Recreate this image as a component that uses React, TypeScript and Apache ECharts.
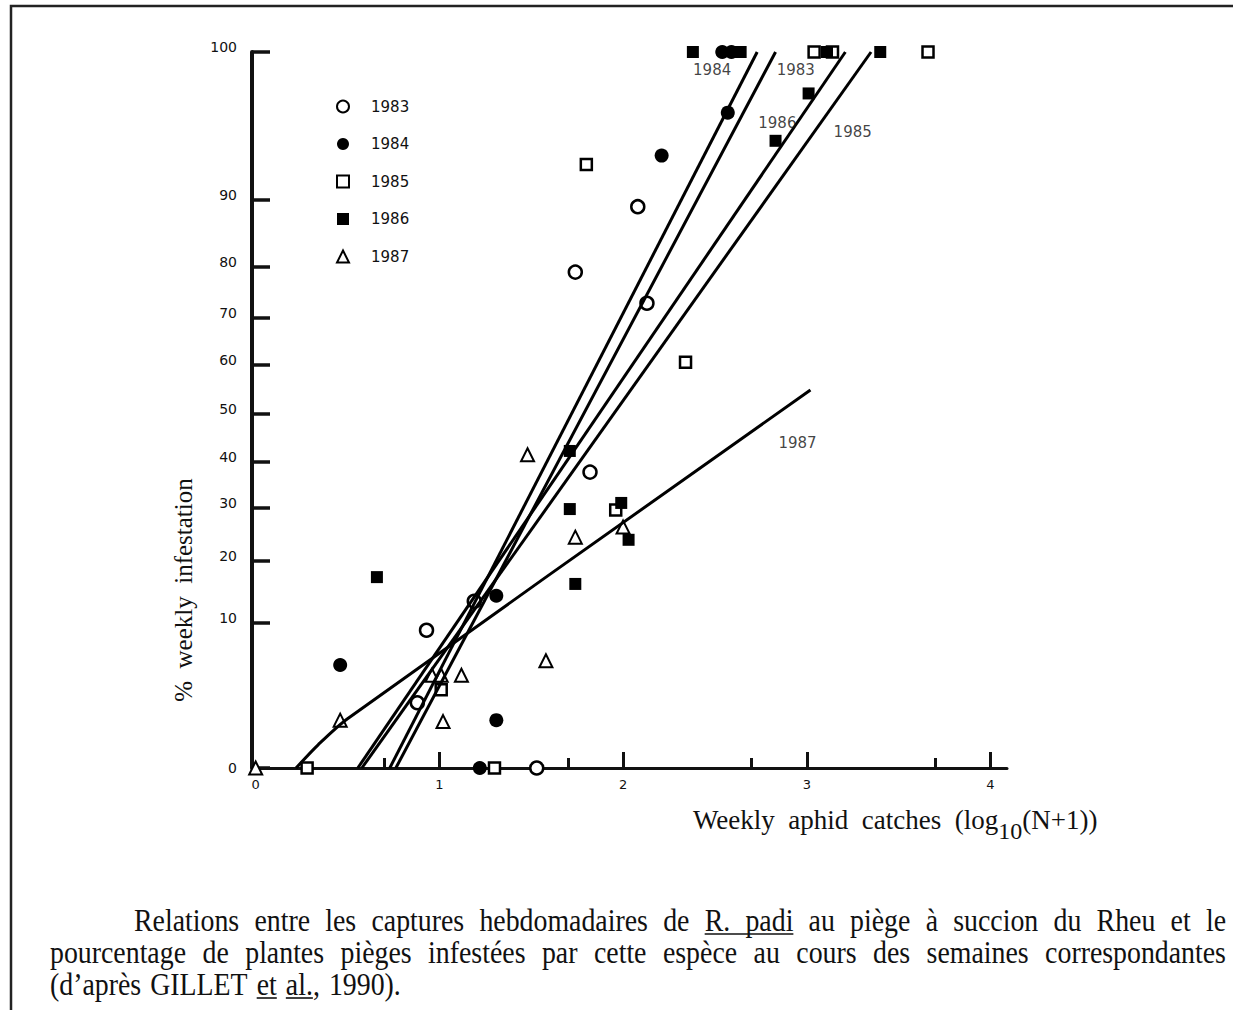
import React, { useEffect, useRef } from "react";
import * as echarts from "echarts";

// ---------- data ----------
const YEARS = ["1983", "1984", "1985", "1986", "1987"];
const TICK_PCT = [0, 10, 20, 30, 40, 50, 60, 70, 80, 90, 100];
// spacing of the probability graph-paper (axis units for each tick of TICK_PCT)
const Y_STOPS = [0, 145, 207, 260, 306, 354, 403, 450, 501, 568, 716];
const X_MAJOR_LABELS = [0, 1, 2, 3, 4];
const X_MAJOR_TICKS = [1, 2, 3, 4];
const X_MINOR_TICKS = [0.7, 1.7, 2.7, 3.7];

// [log10(N+1), % infestation]
const PTS_1983 = [[1.53, 0], [0.93, 9.5], [0.88, 4.5], [1.74, 79], [2.08, 89], [2.13, 72.9], [1.82, 37.8], [1.19, 13.5]];
const PTS_1984 = [[0.46, 7.1], [1.31, 3.3], [1.22, 0], [1.31, 14.4], [2.21, 93.0], [2.57, 95.9], [2.54, 100], [2.59, 100]];
const PTS_1985 = [[0.28, 0], [1.30, 0], [1.01, 5.4], [1.80, 92.4], [2.34, 60.6], [1.96, 29.6], [3.04, 100], [3.14, 100], [3.66, 100]];
const PTS_1986 = [[0.66, 17.4], [1.71, 29.8], [1.74, 16.3], [1.99, 31.1], [2.03, 24.0], [2.83, 94.0], [3.01, 97.2], [1.71, 42.3], [2.38, 100], [2.64, 100], [3.11, 100], [3.40, 100]];
const PTS_1987 = [[0, 0], [0.46, 3.3], [1.48, 41.5], [1.74, 24.5], [1.58, 7.4], [0.96, 6.4], [1.01, 6.4], [1.12, 6.4], [1.02, 3.2], [2.0, 26.4]];

// fitted lines
const LINE_1983 = [[0.763, 0], [2.83, 100]];
const LINE_1984 = [[0.73, 0], [2.73, 100]];
const LINE_1985 = [[0.578, 0], [3.35, 100]];
const LINE_1986 = [[0.556, 0], [3.21, 100]];
const LINE_1987 = [[0.22, 0], [0.34, 1.6], [0.5, 3.4], [3.02, 54.9]];

const LINE_LABEL_NAMES = ["1984", "1983", "1986", "1985", "1987"];
const LINE_LABEL_X = [2.485, 2.94, 2.84, 3.25, 2.95];
const LINE_LABEL_PCT = [98.8, 98.8, 95.2, 94.6, 44.0];

const CAPTION_LINES = [
  "Relations entre les captures hebdomadaires de R. padi au piège à succion du Rheu et le",
  "pourcentage de plantes pièges infestées par cette espèce au cours des semaines correspondantes",
  "(d’après GILLET et al., 1990).",
];

// ---------- helpers ----------
const SERIF = '"Liberation Serif", "Times New Roman", serif';
const SANS = '"DejaVu Sans", sans-serif';

function warp(p: number): number {
  for (let i = 0; i < TICK_PCT.length - 1; i++) {
    const a = TICK_PCT[i], b = TICK_PCT[i + 1];
    if (p <= b) {
      const t = (p - a) / (b - a);
      return Y_STOPS[i] + t * (Y_STOPS[i + 1] - Y_STOPS[i]);
    }
  }
  return Y_STOPS[Y_STOPS.length - 1];
}
function unwarp(w: number): number {
  for (let i = 0; i < Y_STOPS.length - 1; i++) {
    const a = Y_STOPS[i], b = Y_STOPS[i + 1];
    if (w <= b + 1e-6) {
      const t = (w - a) / (b - a);
      return TICK_PCT[i] + t * (TICK_PCT[i + 1] - TICK_PCT[i]);
    }
  }
  return 100;
}
const toAxis = (pts: number[][]) => pts.map(([x, p]) => [x, warp(p)]);

function makeMeasurer() {
  const c = document.createElement("canvas");
  const ctx = c.getContext("2d") as CanvasRenderingContext2D;
  return (text: string, size: number, family: string) => {
    ctx.font = `${size}px ${family}`;
    return ctx.measureText(text).width;
  };
}

function buildGraphics() {
  const measure = makeMeasurer();
  const els: any[] = [];
  // page border
  els.push({
    type: "polyline",
    shape: { points: [[11, 1012], [11, 6], [1240, 6]] },
    style: { stroke: "#222", lineWidth: 2.5, fill: null },
  });
  // y axis name
  els.push({
    type: "text",
    x: 183,
    y: 590,
    rotation: Math.PI / 2,
    style: {
      text: "%  weekly  infestation",
      fontSize: 25,
      fontFamily: SERIF,
      fill: "#111",
      align: "center",
      verticalAlign: "middle",
    },
  });
  // x axis name with subscript
  const xs = 27, subSize = 24;
  const part1 = "Weekly  aphid  catches  (log";
  const w1 = measure(part1, xs, SERIF);
  const w2 = measure("10", subSize, SERIF);
  const parts = [
    { t: part1, x: 693, y: 820, s: xs },
    { t: "10", x: 693 + w1, y: 831, s: subSize },
    { t: "(N+1))", x: 693 + w1 + w2, y: 820, s: xs },
  ];
  parts.forEach((p) =>
    els.push({
      type: "text",
      x: p.x,
      y: p.y,
      style: { text: p.t, fontSize: p.s, fontFamily: SERIF, fill: "#111", align: "left", verticalAlign: "middle" },
    })
  );
  // caption, justified like the printed page
  const size = 32, sx = 0.87;
  const x0s = [134, 50, 50];
  const xEnd = 1226;
  const ys = [920, 952, 984];
  const underlines = [
    { line: 0, from: 6, to: 7, endText: "padi" },
    { line: 2, from: 2, to: 2, endText: "et" },
    { line: 2, from: 3, to: 3, endText: "al." },
  ];
  CAPTION_LINES.forEach((line, li) => {
    const words = line.split(" ");
    const widths = words.map((w) => measure(w, size, SERIF) * sx);
    const sum = widths.reduce((a, b) => a + b, 0);
    const gap = li < 2 ? (xEnd - x0s[li] - sum) / (words.length - 1) : measure(" ", size, SERIF) * sx * 1.3;
    let x = x0s[li];
    const starts: number[] = [];
    words.forEach((w, wi) => {
      starts.push(x);
      els.push({
        type: "text",
        x,
        y: ys[li],
        scaleX: sx,
        style: { text: w, fontSize: size, fontFamily: SERIF, fill: "#111", align: "left", verticalAlign: "middle" },
      });
      x += widths[wi] + gap;
    });
    underlines
      .filter((u) => u.line === li)
      .forEach((u) => {
        const a = starts[u.from];
        const b = starts[u.to] + measure(u.endText, size, SERIF) * sx;
        els.push({
          type: "line",
          shape: { x1: a, y1: ys[li] + 14, x2: b, y2: ys[li] + 14 },
          style: { stroke: "#111", lineWidth: 1.6 },
        });
      });
  });
  return els;
}

const SCATTER_STYLE: Record<string, any> = {
  "1983": { symbol: "circle", size: 13, fill: "#fff", bw: 2.5 },
  "1984": { symbol: "circle", size: 14, fill: "#000", bw: 0 },
  "1985": { symbol: "rect", size: 11, fill: "#fff", bw: 2.5 },
  "1986": { symbol: "rect", size: 12, fill: "#000", bw: 0 },
  "1987": { symbol: "triangle", size: 13, fill: "#fff", bw: 2 },
};
const PTS: Record<string, number[][]> = {
  "1983": PTS_1983,
  "1984": PTS_1984,
  "1985": PTS_1985,
  "1986": PTS_1986,
  "1987": PTS_1987,
};
const LINES: Record<string, number[][]> = {
  "1983": LINE_1983,
  "1984": LINE_1984,
  "1985": LINE_1985,
  "1986": LINE_1986,
  "1987": LINE_1987,
};

export default function App() {
  const ref = useRef<HTMLDivElement>(null);
  useEffect(() => {
    if (!ref.current) return;
    const chart = echarts.init(ref.current, null, { renderer: "svg" });
    const scatterSeries = YEARS.map((y) => ({
      name: y,
      type: "scatter",
      symbol: SCATTER_STYLE[y].symbol,
      symbolSize: SCATTER_STYLE[y].size,
      itemStyle: { color: SCATTER_STYLE[y].fill, borderColor: "#000", borderWidth: SCATTER_STYLE[y].bw, opacity: 1 },
      data: toAxis(PTS[y]),
      z: 3,
      silent: true,
    }));
    const lineSeries = YEARS.map((y) => ({
      name: "fit " + y,
      type: "line",
      symbol: "none",
      smooth: y === "1987" ? 0.3 : false,
      lineStyle: { color: "#000", width: 3 },
      data: toAxis(LINES[y]),
      z: 4,
      silent: true,
    }));
    const labelSeries = {
      name: "line labels",
      type: "scatter",
      symbolSize: 0,
      silent: true,
      z: 5,
      data: LINE_LABEL_NAMES.map((n, i) => ({ name: n, value: [LINE_LABEL_X[i], warp(LINE_LABEL_PCT[i])] })),
      label: {
        show: true,
        position: "inside",
        formatter: "{b}",
        color: "#111",
        fontSize: 15,
        fontFamily: SANS,
      },
    };
    const tickVals = TICK_PCT.map(warp);
    chart.setOption({
      animation: false,
      backgroundColor: "#fff",
      grid: { left: 252, top: 52, width: 755, height: 716, containLabel: false, outerBoundsMode: "none" },
      legend: {
        data: YEARS,
        orient: "vertical",
        left: 336,
        top: 99,
        padding: 0,
        itemWidth: 12,
        itemHeight: 12,
        itemGap: 22.5,
        selectedMode: false,
        textStyle: { fontSize: 15, fontFamily: SANS, color: "#111", padding: [0, 0, 0, 17] },
      },
      xAxis: [
        {
          type: "value",
          min: -0.02,
          max: 4.09,
          axisLine: { show: true, onZero: false, lineStyle: { color: "#111", width: 3 } },
          axisTick: { show: true, inside: true, length: 16, customValues: X_MAJOR_TICKS, lineStyle: { color: "#111", width: 3 } },
          axisLabel: { show: true, customValues: X_MAJOR_LABELS, margin: 10, fontSize: 13, fontFamily: SANS, color: "#111" },
          splitLine: { show: false },
        },
        {
          type: "value",
          position: "bottom",
          min: -0.02,
          max: 4.09,
          axisLine: { show: false, onZero: false },
          axisTick: { show: true, inside: true, length: 10, customValues: X_MINOR_TICKS, lineStyle: { color: "#111", width: 3 } },
          axisLabel: { show: false },
          splitLine: { show: false },
        },
      ],
      yAxis: {
        type: "value",
        min: 0,
        max: 716,
        axisLine: { show: true, onZero: false, lineStyle: { color: "#111", width: 4 } },
        axisTick: { show: true, inside: true, length: 18, customValues: tickVals, lineStyle: { color: "#111", width: 3.5 } },
        axisLabel: {
          show: true,
          customValues: tickVals,
          margin: 15,
          fontSize: 14,
          fontFamily: SANS,
          color: "#111",
          formatter: (v: number) => {
            const p = Math.round(unwarp(v));
            return p === 0 ? `{z|0}` : `{n|${p}}`;
          },
          rich: {
            n: { fontSize: 14, fontFamily: SANS, color: "#111", padding: [0, 0, 10, 0] },
            z: { fontSize: 14, fontFamily: SANS, color: "#111" },
          },
        },
        splitLine: { show: false },
      },
      series: [...scatterSeries, ...lineSeries, labelSeries],
      graphic: buildGraphics(),
    });
    return () => chart.dispose();
  }, []);
  return (
    <div
      ref={ref}
      style={{ position: "absolute", left: 0, top: 0, width: 1233, height: 1010, background: "#fff" }}
    />
  );
}
